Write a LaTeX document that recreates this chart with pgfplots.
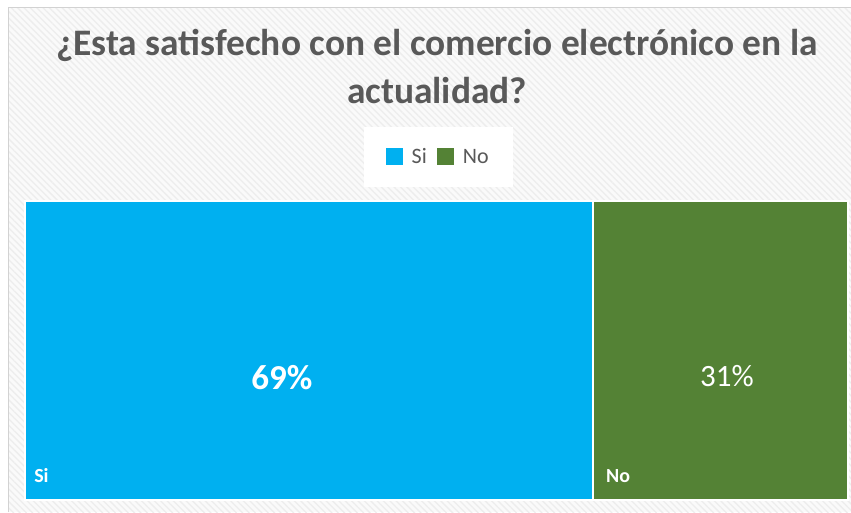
\documentclass[border=0pt]{standalone}
\usepackage{pgfplots}
\pgfplotsset{compat=1.18}
\usepackage{fontspec}
\setmainfont{Carlito}
\usetikzlibrary{patterns.meta}
\definecolor{siblue}{HTML}{00B0F0}
\definecolor{nogreen}{HTML}{548235}
\definecolor{titlegray}{HTML}{595959}
\begin{document}
\begin{tikzpicture}
\useasboundingbox (0,0) rectangle (851pt,512pt);
\fill[white] (0,0) rectangle (851pt,512pt);
\fill[gray!4] (8pt,0) rectangle (851pt,504pt);
\fill[pattern={Lines[angle=-45,distance=4.5pt,line width=1.3pt]}, pattern color=gray!14] (8pt,0) rectangle (851pt,504pt);
\draw[gray!35, line width=1pt] (8pt,0) -- (8pt,504pt) -- (851pt,504pt);
\node[anchor=base, font=\fontsize{37.4}{44}\selectfont\bfseries, text=titlegray, inner sep=0pt] at (437pt,456pt) {¿Esta satisfecho con el comercio electrónico en la};
\node[anchor=base, font=\fontsize{37.4}{44}\selectfont\bfseries, text=titlegray, inner sep=0pt] at (437pt,408pt) {actualidad?};
\begin{axis}[
  at={(25pt,12pt)}, anchor=south west,
  scale only axis, width=823pt, height=299pt,
  xmin=0, xmax=100, ymin=0, ymax=1,
  hide axis, clip=false,
  legend columns=2,
  legend style={at={(0.502,1.147)}, anchor=center, draw=none, fill=white,
    font=\fontsize{22}{26}\selectfont, text=titlegray,
    inner xsep=22pt, inner ysep=20pt,
    /tikz/every odd column/.append style={column sep=7pt},
    /tikz/every even column/.append style={column sep=8pt}},
  legend image code/.code={\path[#1, draw=none] (0pt,-8pt) rectangle (17pt,9pt);},
]
\addplot[fill=siblue, draw=white, line width=1.5pt] coordinates {(0,0) (69,0) (69,1) (0,1)} -- cycle;
\addlegendentry{Si}
\addplot[fill=nogreen, draw=white, line width=1.5pt] coordinates {(69,0) (100,0) (100,1) (69,1)} -- cycle;
\addlegendentry{No}
\node[text=white, font=\fontsize{35}{40}\selectfont\bfseries] at (axis cs:31.2,0.41) {69\%};
\node[text=white, font=\fontsize{31}{36}\selectfont] at (axis cs:85.3,0.415) {31\%};
\node[text=white, font=\fontsize{20}{24}\selectfont\bfseries, anchor=base west, inner sep=0pt] at (axis cs:1.1,0.06) {Si};
\node[text=white, font=\fontsize{20}{24}\selectfont\bfseries, anchor=base west, inner sep=0pt] at (axis cs:70.6,0.06) {No};
\end{axis}
\end{tikzpicture}
\end{document}
